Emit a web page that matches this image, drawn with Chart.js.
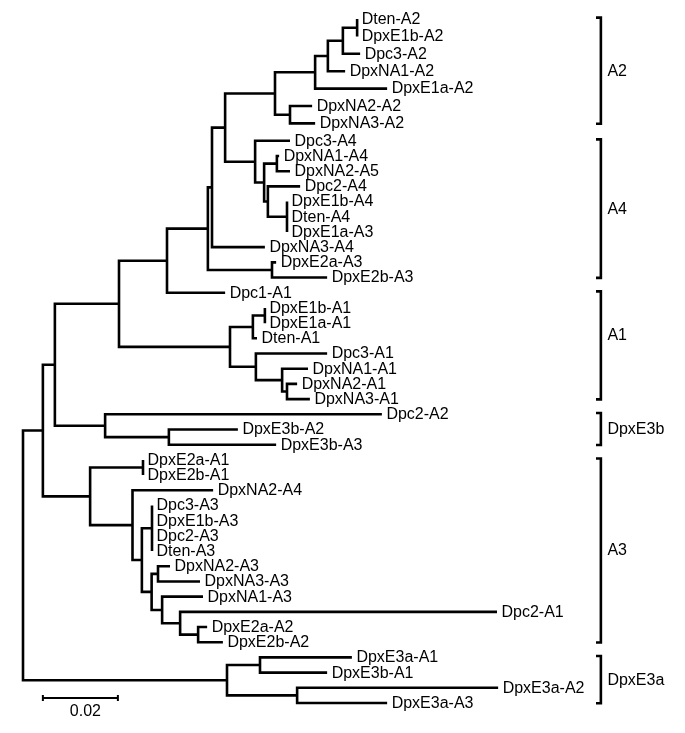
<!DOCTYPE html>
<html>
<head>
<meta charset="utf-8">
<title>Dpx gene tree</title>
<script src="https://cdn.jsdelivr.net/npm/chart.js@4.4.1/dist/chart.umd.min.js"></script>
<style>
  html,body{margin:0;padding:0;background:#fff;}
  #wrap{position:relative;width:685px;height:733px;}
</style>
</head>
<body>
<div id="wrap"><canvas id="tree"></canvas></div>
<script>
// ── DATA ──
// taxa, top to bottom as they appear in the tree
const taxa = [
  'Dten-A2','DpxE1b-A2','Dpc3-A2','DpxNA1-A2','DpxE1a-A2','DpxNA2-A2','DpxNA3-A2',
  'Dpc3-A4','DpxNA1-A4','DpxNA2-A5','Dpc2-A4','DpxE1b-A4','Dten-A4','DpxE1a-A3','DpxNA3-A4','DpxE2a-A3','DpxE2b-A3',
  'Dpc1-A1','DpxE1b-A1','DpxE1a-A1','Dten-A1','Dpc3-A1','DpxNA1-A1','DpxNA2-A1','DpxNA3-A1',
  'Dpc2-A2','DpxE3b-A2','DpxE3b-A3',
  'DpxE2a-A1','DpxE2b-A1','DpxNA2-A4','Dpc3-A3','DpxE1b-A3','Dpc2-A3','Dten-A3','DpxNA2-A3','DpxNA3-A3','DpxNA1-A3','Dpc2-A1','DpxE2a-A2','DpxE2b-A2',
  'DpxE3a-A1','DpxE3b-A1','DpxE3a-A2','DpxE3a-A3'
];
// distance from the root to each tip
const tipDepth = [
  0.0891,0.0891,0.0899,0.0859,0.0971,0.0771,0.0779,
  0.0712,0.0683,0.0712,0.0739,0.0704,0.0704,0.0704,0.0645,0.0675,0.0811,
  0.0539,0.0645,0.0645,0.0624,0.0811,0.0760,0.0731,0.0765,
  0.0957,0.0573,0.0675,
  0.0320,0.0320,0.0507,0.0344,0.0344,0.0344,0.0344,0.0392,0.0472,0.0480,0.1264,0.0491,0.0533,
  0.0877,0.0811,0.1267,0.0971
];
// internal nodes: distance from the root
const nodeDepth = [
  0,0.0053,0.0085,0.0256,0.0384,0.0493,0.0504,0.0539,0.0672,0.0779,
  0.0813,0.0853,0.0891,0.0712,0.0619,0.0643,0.0677,0.0653,0.0704,0.0664,
  0.0552,0.0613,0.0645,0.0621,0.0691,0.0704,0.0219,0.0389,0.0179,0.0320,
  0.0292,0.0317,0.0344,0.0343,0.0360,0.0371,0.0419,0.0467,0.0544,0.0632,0.0731
];
// children of each internal node (number = internal node, string = taxon)
const nodeKids = [
  [1,38],[2,28],[3,26],[4,20],[5,'Dpc1-A1'],[6,19],[7,'DpxNA3-A4'],[8,14],[9,13],[10,'DpxE1a-A2'],
  [11,'DpxNA1-A2'],[12,'Dpc3-A2'],['Dten-A2','DpxE1b-A2'],['DpxNA2-A2','DpxNA3-A2'],['Dpc3-A4',15],[16,17],
  ['DpxNA1-A4','DpxNA2-A5'],['Dpc2-A4',18],['DpxE1b-A4','Dten-A4','DpxE1a-A3'],['DpxE2a-A3','DpxE2b-A3'],
  [21,23],[22,'Dten-A1'],['DpxE1b-A1','DpxE1a-A1'],['Dpc3-A1',24],['DpxNA1-A1',25],['DpxNA2-A1','DpxNA3-A1'],
  ['Dpc2-A2',27],['DpxE3b-A2','DpxE3b-A3'],[29,30],['DpxE2a-A1','DpxE2b-A1'],['DpxNA2-A4',31],[32,33],
  ['Dpc3-A3','DpxE1b-A3','Dpc2-A3','Dten-A3'],[34,35],['DpxNA2-A3','DpxNA3-A3'],['DpxNA1-A3',36],
  ['Dpc2-A1',37],['DpxE2a-A2','DpxE2b-A2'],[39,40],['DpxE3a-A1','DpxE3b-A1'],['DpxE3a-A2','DpxE3a-A3']
];
// clade brackets on the right
const cladeNames = ['A2','A4','A1','DpxE3b','A3','DpxE3a'];
const cladeFirst = ['Dten-A2','Dpc3-A4','Dpc1-A1','Dpc2-A2','DpxE2a-A1','DpxE3a-A1'];
const cladeLast  = ['DpxNA3-A2','DpxE2b-A3','DpxNA3-A1','DpxE3b-A3','DpxE2b-A2','DpxE3a-A3'];
const scaleBarLen = 0.02;

// ── LAYOUT ──
const X_MAX = 0.17;          // right end of the x scale
const BAR_X = 0.1541, TICK_X = 0.1528;   // clade bracket position
const SCALE_AT = 0.0053;     // left end of the scale bar
// the top rows of the figure sit a bit further apart
const TOP_ROWS = 7, TOP_GAP = 1.145;
function rowPos(i){ return i <= TOP_ROWS ? i*TOP_GAP : TOP_ROWS*TOP_GAP + (i-TOP_ROWS); }

const tipRow = {}, tipX = {};
taxa.forEach((t,i)=>{ tipRow[t]=rowPos(i); tipX[t]=tipDepth[i]; });
const yCache = {};
function nodeY(n){
  if(yCache[n]!=null) return yCache[n];
  const ks = nodeKids[n];
  return yCache[n] = (kidY(ks[0]) + kidY(ks[ks.length-1]))/2;
}
function kidY(k){ return typeof k==='string' ? tipRow[k] : nodeY(k); }
function kidX(k){ return typeof k==='string' ? tipX[k] : nodeDepth[k]; }

// one polyline per node: first child -> node -> last child, extra children as stubs
const treePts = [];
nodeKids.forEach((ks,n)=>{
  const x = nodeDepth[n], a = ks[0], b = ks[ks.length-1];
  treePts.push({x:kidX(a),y:kidY(a)},{x,y:kidY(a)},{x,y:kidY(b)},{x:kidX(b),y:kidY(b)},{x,y:null});
  ks.slice(1,-1).forEach(k=>{
    treePts.push({x,y:kidY(k)},{x:kidX(k),y:kidY(k)},{x,y:null});
  });
});

const bracketPts = [];
cladeNames.forEach((c,i)=>{
  const top = tipRow[cladeFirst[i]] - 0.09, bot = tipRow[cladeLast[i]] + 0.02;
  bracketPts.push({x:TICK_X,y:top},{x:BAR_X,y:top},{x:BAR_X,y:bot},{x:TICK_X,y:bot},{x:BAR_X,y:null});
});

// ── TEXT + SCALE BAR ──
const FONT = '16px "Liberation Sans", Arial, sans-serif';
const treeText = {
  id:'treeText',
  afterDatasetsDraw(chart){
    const {ctx, scales:{x,y}} = chart;
    ctx.save();
    ctx.fillStyle = '#000';
    ctx.font = FONT;
    ctx.textBaseline = 'middle';
    ctx.textAlign = 'left';
    taxa.forEach((t,i)=>{
      ctx.fillText(t, x.getPixelForValue(tipDepth[i]) + 4.5, y.getPixelForValue(rowPos(i)) + 0.5);
    });
    cladeNames.forEach((c,i)=>{
      let yc = (y.getPixelForValue(tipRow[cladeFirst[i]]) + y.getPixelForValue(tipRow[cladeLast[i]]))/2;
      if(c==='A1') yc -= 10;
      ctx.fillText(c, x.getPixelForValue(BAR_X) + 6.5, yc);
    });
    // scale bar
    const x0 = x.getPixelForValue(SCALE_AT), x1 = x.getPixelForValue(SCALE_AT + scaleBarLen);
    const yb = chart.chartArea.bottom - 5;
    ctx.strokeStyle = '#000';
    ctx.lineWidth = 2;
    ctx.beginPath();
    ctx.moveTo(x0,yb); ctx.lineTo(x1,yb);
    ctx.moveTo(x0,yb-3); ctx.lineTo(x0,yb+3);
    ctx.moveTo(x1,yb-3); ctx.lineTo(x1,yb+3);
    ctx.stroke();
    ctx.textAlign = 'center';
    ctx.fillText(String(scaleBarLen), (x0+x1)/2 + 5, yb + 14);
    ctx.restore();
  }
};

const lineStyle = {borderColor:'#000',borderWidth:2.6,pointRadius:0,borderJoinStyle:'miter',
  borderCapStyle:'butt',spanGaps:false,clip:false,tension:0,fill:false};

new Chart(document.getElementById('tree'),{
  type:'line',
  data:{datasets:[
    {label:'tree',data:treePts,...lineStyle},
    {label:'clades',data:bracketPts,...lineStyle}
  ]},
  options:{
    responsive:true,maintainAspectRatio:false,animation:false,events:[],
    layout:{padding:{left:23,top:19,right:685-23-X_MAX*3750,bottom:30}},
    plugins:{legend:{display:false},tooltip:{enabled:false}},
    scales:{
      x:{type:'linear',min:0,max:X_MAX,display:false},
      y:{type:'linear',min:0,max:rowPos(taxa.length-1),reverse:true,display:false}
    }
  },
  plugins:[treeText]
});
</script>
</body>
</html>
